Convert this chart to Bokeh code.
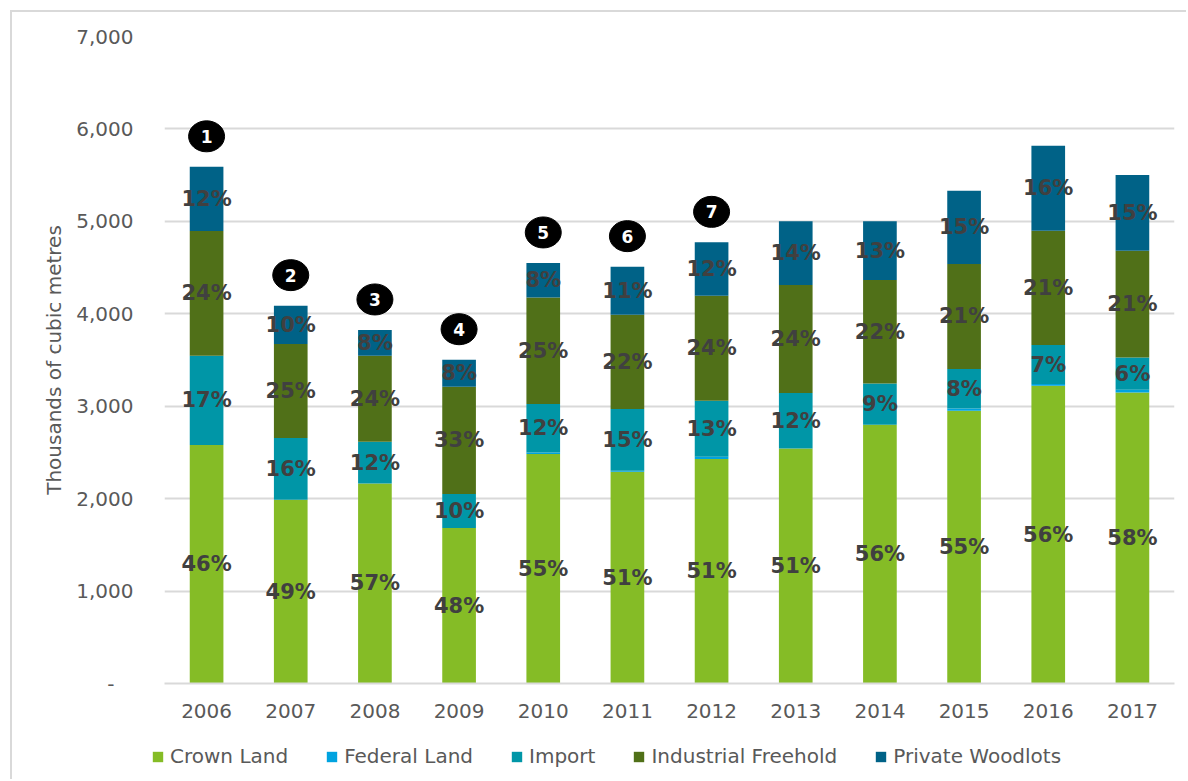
from bokeh.plotting import figure
from bokeh.models import ColumnDataSource, Range1d, FactorRange, FixedTicker, Legend, LegendItem, NumeralTickFormatter
from bokeh.core.properties import value
from bokeh.embed import file_html
from bokeh.resources import INLINE

# ---------------- data ----------------
years = ["2006", "2007", "2008", "2009", "2010", "2011", "2012",
         "2013", "2014", "2015", "2016", "2017"]
crown_land = [2580, 1988, 2165, 1682, 2483, 2290, 2429, 2543, 2800, 2951, 3222, 3149]
federal_land = [0, 0, 0, 0, 17, 12, 24, 0, 0, 25, 18, 29]
import_vol = [966, 668, 451, 368, 524, 668, 607, 600, 447, 427, 422, 350]
industrial_freehold = [1351, 1017, 930, 1161, 1153, 1020, 1136, 1169, 1119, 1136, 1237, 1155]
private_woodlots = [693, 415, 279, 292, 373, 520, 577, 688, 634, 793, 920, 819]

crown_pct = ["46%", "49%", "57%", "48%", "55%", "51%", "51%", "51%", "56%", "55%", "56%", "58%"]
import_pct = ["17%", "16%", "12%", "10%", "12%", "15%", "13%", "12%", "9%", "8%", "7%", "6%"]
industrial_pct = ["24%", "25%", "24%", "33%", "25%", "22%", "24%", "24%", "22%", "21%", "21%", "21%"]
private_pct = ["12%", "10%", "8%", "8%", "8%", "11%", "12%", "14%", "13%", "15%", "16%", "15%"]

marker_years = ["2006", "2007", "2008", "2009", "2010", "2011", "2012"]
marker_labels = ["1", "2", "3", "4", "5", "6", "7"]

series_names = ["Crown Land", "Federal Land", "Import", "Industrial Freehold", "Private Woodlots"]
colors = ["#85BC26", "#00A3E0", "#0096A7", "#507018", "#006287"]

y_ticks = [0, 1000, 2000, 3000, 4000, 5000, 6000, 7000]
y_tick_labels = ["-\u00a0\u00a0\u00a0", "1,000", "2,000", "3,000", "4,000", "5,000", "6,000", "7,000"]

FONT = "DejaVu Sans"
GREY = "#595959"
FRAME = "2px solid #d9d9d9"

# ---------------- main figure ----------------
p = figure(x_range=FactorRange(*years, range_padding=0), y_range=Range1d(0, 7000),
           width=1176, height=723, output_backend="svg", toolbar_location=None,
           min_border_left=152, min_border_right=14, min_border_top=24, min_border_bottom=52,
           margin=(10, 0, 0, 10), styles={"border-top": FRAME, "border-left": FRAME})
p.outline_line_color = None
p.background_fill_color = "white"
p.border_fill_color = "white"

src = ColumnDataSource(dict(years=years, crown=crown_land, federal=federal_land,
                            import_=import_vol, industrial=industrial_freehold,
                            private=private_woodlots))
stack_cols = ["crown", "federal", "import_", "industrial", "private"]
p.vbar_stack(stack_cols, x="years", width=0.4, color=colors, source=src, line_color=None)

# ---------------- axes ----------------
p.xgrid.grid_line_color = None
p.ygrid.grid_line_color = "#d9d9d9"
p.ygrid.grid_line_width = 2
p.yaxis.ticker = FixedTicker(ticks=y_ticks)
p.yaxis.formatter = NumeralTickFormatter(format="0,0")
p.yaxis.major_label_overrides = {t: l for t, l in zip(y_ticks, y_tick_labels)}
p.yaxis.axis_line_color = None
p.yaxis.major_tick_line_color = None
p.yaxis.minor_tick_line_color = None
p.yaxis.major_label_standoff = 25
p.yaxis.major_label_text_font = FONT
p.yaxis.major_label_text_font_size = "20px"
p.yaxis.major_label_text_color = GREY
p.yaxis.axis_label = "Thousands of cubic metres"
p.yaxis.axis_label_text_font = FONT
p.yaxis.axis_label_text_font_size = "20px"
p.yaxis.axis_label_text_font_style = "normal"
p.yaxis.axis_label_text_color = GREY
p.yaxis.axis_label_standoff = 7

p.xaxis.axis_line_color = "#d9d9d9"
p.xaxis.axis_line_width = 2
p.xaxis.major_tick_line_color = None
p.xaxis.minor_tick_line_color = None
p.xaxis.major_label_standoff = 14
p.xaxis.major_label_text_font = FONT
p.xaxis.major_label_text_font_size = "20px"
p.xaxis.major_label_text_color = GREY

# ---------------- percentage labels ----------------
def mids(base_lists, seg):
    out = []
    for i in range(len(years)):
        b = sum(l[i] for l in base_lists)
        out.append(b + seg[i] / 2)
    return out

lab_x, lab_y, lab_t = [], [], []
for bases, seg, txt in [
    ([], crown_land, crown_pct),
    ([crown_land, federal_land], import_vol, import_pct),
    ([crown_land, federal_land, import_vol], industrial_freehold, industrial_pct),
    ([crown_land, federal_land, import_vol, industrial_freehold], private_woodlots, private_pct),
]:
    lab_x += years
    lab_y += mids(bases, seg)
    lab_t += txt

p.text(x=lab_x, y=lab_y, text=lab_t, text_font=value(FONT), text_font_size="21px",
       text_font_style="bold", text_color="#404040", text_align="center",
       text_baseline="middle")

# ---------------- numbered markers ----------------
totals = [c + f + i + ind + pr for c, f, i, ind, pr in
          zip(crown_land, federal_land, import_vol, industrial_freehold, private_woodlots)]
mk_y = [totals[years.index(y)] + 330 for y in marker_years]
p.ellipse(x=marker_years, y=mk_y, width=36, height=31, width_units="screen",
          height_units="screen", fill_color="black", line_color="black")
p.text(x=marker_years, y=mk_y, text=marker_labels, text_font=value(FONT),
       text_font_size="17px", text_font_style="bold", text_color="white",
       text_align="center", text_baseline="middle")

# ---------------- legend (separate strip) ----------------
pl = figure(width=1176, height=46, x_range=Range1d(0, 1), y_range=Range1d(0, 1),
            output_backend="svg", toolbar_location=None, min_border=0,
            min_border_left=0, min_border_right=0, min_border_top=0, min_border_bottom=0,
            x_axis_location=None, y_axis_location=None,
            margin=(0, 0, 0, 10), styles={"border-left": FRAME})
pl.grid.visible = False
pl.outline_line_color = None
pl.border_fill_color = "white"
pl.background_fill_color = "white"
items = []
for name, c in zip(series_names, colors):
    # swatch renderer lies outside the strip's range: only its legend glyph shows
    r = pl.vbar(x=[5], top=[5], bottom=[4], width=0.1, color=c, line_color=None)
    items.append(LegendItem(label=name, renderers=[r]))
legend = Legend(items=items, orientation="horizontal", location=(139, 11),
                glyph_width=13, glyph_height=13, label_standoff=6, spacing=37,
                padding=0, margin=0, border_line_color=None, background_fill_alpha=0,
                label_text_font=FONT, label_text_font_size="20px", label_text_color=GREY)
pl.add_layout(legend)

open("out.html", "w").write(file_html([p, pl], INLINE))
